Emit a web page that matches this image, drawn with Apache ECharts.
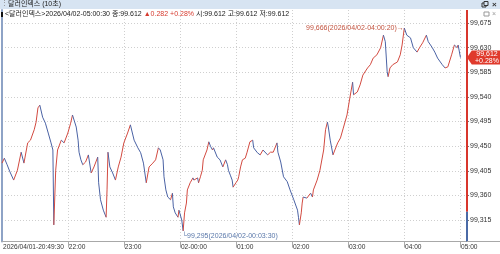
<!DOCTYPE html>
<html><head><meta charset="utf-8">
<script src="https://cdn.jsdelivr.net/npm/echarts@6/dist/echarts.min.js"></script>
<style>html,body{margin:0;padding:0;background:#fff}#c{width:500px;height:254px}</style>
</head><body><div id="c"></div>
<script>
const times = ['20:49:30','20:52','20:55','20:58','21:02','21:06','21:10','21:13','21:17','21:20',
'21:24','21:26','21:28','21:30','21:33','21:36','21:39','21:42','21:44','21:45',
'21:47','21:49','21:53','21:56','22:00','22:03','22:05','22:09','22:11','22:12',
'22:14','22:16','22:19','22:22','22:25','22:28','22:32','22:33','22:35','22:38',
'22:41','22:42','22:43','22:45','22:48','22:51','22:54','22:57','23:00','23:04',
'23:07','23:11','23:15','23:18','23:21','23:24','23:27','23:31','23:34','23:37',
'23:39','23:42','23:43','23:45','23:47','23:50','23:52','23:53','23:55','23:58',
'23:59','00:02','00:03:30','00:05','00:07','00:08','00:11','00:14','00:15','00:19',
'00:20','00:22','00:24','00:25','00:29','00:31','00:33','00:35','00:36','00:40',
'00:43','00:46','00:49','00:51','00:52','00:54','00:56','00:57','01:00','01:02',
'01:03','01:05','01:07','01:10','01:12','01:15','01:18','01:19','01:23','01:26',
'01:29','01:34','01:37','01:40','01:44','01:45','01:48','01:51','01:55','01:58',
'02:02','02:06','02:07','02:08','02:10','02:11','02:12','02:16','02:20','02:22',
'02:23','02:27','02:30','02:34','02:36','02:38','02:39','02:41','02:44','02:46',
'02:49','02:52','02:55','02:59','03:02','03:05','03:06','03:10','03:13','03:16',
'03:21','03:24','03:27','03:31','03:35','03:38','03:40','03:42','03:43','03:45',
'03:48','03:53','03:56','03:58','04:00:20','04:03','04:07','04:10','04:14','04:17',
'04:20','04:24','04:26','04:30','04:33','04:36','04:41','04:44','04:47','04:51',
'04:54','04:57','04:58','05:00:30'];
const values = [99.419,99.428,99.416,99.403,99.388,99.406,99.439,99.419,99.456,99.461,
99.480,99.494,99.520,99.525,99.503,99.492,99.474,99.456,99.443,99.306,
99.406,99.443,99.461,99.456,99.474,99.492,99.507,99.485,99.461,99.439,
99.425,99.416,99.421,99.434,99.401,99.412,99.430,99.383,99.352,99.333,
99.320,99.370,99.439,99.412,99.401,99.388,99.412,99.430,99.456,99.474,
99.489,99.461,99.447,99.438,99.419,99.383,99.412,99.419,99.425,99.447,
99.443,99.425,99.394,99.370,99.357,99.352,99.364,99.339,99.328,99.320,
99.333,99.315,99.295,99.328,99.346,99.370,99.383,99.392,99.388,99.392,
99.383,99.394,99.406,99.425,99.443,99.458,99.449,99.443,99.447,99.430,
99.425,99.412,99.425,99.416,99.406,99.397,99.388,99.375,99.383,99.388,
99.394,99.412,99.425,99.428,99.439,99.458,99.461,99.447,99.438,99.434,
99.443,99.434,99.439,99.439,99.456,99.439,99.421,99.394,99.385,99.370,
99.352,99.333,99.320,99.306,99.328,99.346,99.357,99.355,99.364,99.357,
99.370,99.388,99.406,99.443,99.480,99.494,99.485,99.461,99.434,99.443,
99.456,99.465,99.483,99.507,99.538,99.567,99.544,99.549,99.562,99.580,
99.593,99.599,99.611,99.617,99.630,99.653,99.641,99.586,99.577,99.593,
99.599,99.604,99.617,99.635,99.666,99.653,99.648,99.630,99.622,99.631,
99.639,99.653,99.641,99.631,99.622,99.611,99.599,99.593,99.595,99.617,
99.635,99.630,99.635,99.612];
const prevClose = 99.330;
const lastClose = 99.612;
const change = 0.282;
const changePct = '+0.28%';
const yTicks = [99.315,99.360,99.405,99.450,99.495,99.540,99.585,99.630,99.675];
const xTickTimes = ['22:00','23:00','00:00','01:00','02:00','03:00','04:00','05:00'];
const xTickLabels = ['22:00','23:00','02-00:00','01:00','02:00','03:00','04:00','05:00'];
const startTime = '20:49:30';
const startLabel = '2026/04/01-20:49:30';
const lastStamp = '2026/04/02-05:00:30';
const dayPrefix = '2026/04/02-';

// ---- helpers ----
function toMin(t){const p=t.split(':').map(Number);let m=p[0]*60+p[1]+(p[2]||0)/60;if(p[0]<12)m+=1440;return m;}
const fmt = v => v.toFixed(3).replace('.', ',');
const FONT = "'Liberation Sans','Noto Sans CJK KR',sans-serif";
const RED = '#d24a40', BLUE = '#4a62a4';

const xs = times.map(toMin);
// each segment: [x_prev, v_prev, x, v]
const segs = values.map((v,i)=>i?[xs[i-1],values[i-1],xs[i],v]:[xs[i],v,xs[i],v]);
let hi=0, lo=0;
values.forEach((v,i)=>{if(v>values[hi])hi=i;if(v<values[lo])lo=i;});
const xMin = toMin(startTime), xMax = toMin('05:07:30');
const yMin = 99.2755, yMax = 99.699;
const xTickMins = xTickTimes.map(toMin);
const xLabelMins = [xMin].concat(xTickMins);
const xLabelTexts = [startLabel].concat(xTickLabels);

const chart = echarts.init(document.getElementById('c'));
chart.setOption({
  animation:false,
  textStyle:{fontFamily:FONT},
  grid:{left:1,right:33,top:10,bottom:12.4},
  xAxis:{type:'value',min:xMin,max:xMax,
    axisLine:{lineStyle:{color:'#a8a8a8',width:1}},
    axisTick:{show:true,customValues:xTickMins,length:6,lineStyle:{color:'#aaa'}},
    axisLabel:{customValues:xLabelMins,align:'left',margin:2,fontSize:6.6,color:'#333',fontFamily:FONT,padding:[0,0,0,1],
      formatter:v=>{const i=xLabelMins.findIndex(m=>Math.abs(m-v)<1e-6);return i>=0?xLabelTexts[i]:'';}},
    splitLine:{show:true,lineStyle:{type:[1,2],color:'#cfcfcf',width:1}}},
  yAxis:[{type:'value',position:'right',min:yMin,max:yMax,scale:true,
    axisLine:{show:false},
    axisTick:{show:true,customValues:yTicks,length:2,inside:false,lineStyle:{color:'#777'}},
    axisLabel:{customValues:yTicks,margin:3,fontSize:7,color:'#333',fontFamily:FONT,formatter:v=>fmt(v)},
    splitLine:{show:true,lineStyle:{type:[1,2],color:'#cfcfcf',width:1}}},
   {type:'value',position:'left',min:yMin,max:yMax,
    axisLine:{show:true,lineStyle:{color:'#8ea3c6',width:2}},
    axisTick:{show:false},axisLabel:{show:false},splitLine:{show:false}}],
  series:[{type:'custom',data:segs,encode:{x:[0,2],y:[1,3]},clip:false,
    renderItem:(params,api)=>{
      const p0=api.coord([api.value(0),api.value(1)]), p1=api.coord([api.value(2),api.value(3)]);
      return {type:'line',shape:{x1:p0[0],y1:p0[1],x2:p1[0],y2:p1[1]},
        style:{stroke:api.value(3)>=api.value(1)?RED:BLUE,lineWidth:1}};
    },
    markLine:{silent:true,symbol:['none','none'],label:{show:false},
      lineStyle:{type:'solid',width:2},
      data:[[{coord:[xMax,yMax],lineStyle:{color:'#d8362c',type:'solid',width:2}},{coord:[xMax,prevClose]}],
            [{coord:[xMax,prevClose],lineStyle:{color:'#4a6aa6',type:'solid',width:2}},{coord:[xMax,yMin]}]]},
    markPoint:{silent:true,
      data:[
        {coord:[xMax,lastClose],symbol:'path://M0,7L5,0L40,0L40,14L5,14Z',symbolSize:[38,14],symbolOffset:[19,0],
          itemStyle:{color:'#e03a2c'},
          label:{show:true,position:'inside',offset:[1,0],formatter:fmt(lastClose)+'\n'+changePct,color:'#fff',fontSize:7,lineHeight:7,fontFamily:FONT}},
        {coord:[xs[hi],values[hi]],symbol:'circle',symbolSize:1,itemStyle:{color:'rgba(0,0,0,0)'},
          label:{show:true,position:'left',distance:0,color:'#c2533f',fontSize:7,fontFamily:FONT,
            formatter:fmt(values[hi])+'('+dayPrefix+times[hi]+')→'}},
        {coord:[xs[lo],values[lo]],symbol:'circle',symbolSize:1,itemStyle:{color:'rgba(0,0,0,0)'},
          label:{show:true,position:'bottom',align:'left',distance:1,offset:[-1,0],color:'#5a78aa',fontSize:7,fontFamily:FONT,
            formatter:'└'+fmt(values[lo])+'('+dayPrefix+times[lo]+')'}}
      ]}
  }],
  graphic:[
    {type:'rect',left:0,top:0,shape:{width:500,height:9},style:{fill:'#d7e4f2'},z:100},
    {type:'text',left:1,top:0,style:{text:'⋮',font:'7px '+FONT,fill:'#888'},z:101},
    {type:'text',x:8,y:4.5,style:{text:'달러인덱스 (10초)',font:'7px '+FONT,fill:'#222',verticalAlign:'middle'},z:101},
    {type:'rect',x:482,y:3,shape:{width:4,height:4},style:{fill:'none',stroke:'#333',lineWidth:1},z:101},
    {type:'rect',x:484,y:1.5,shape:{width:4,height:4},style:{fill:'#d7e4f2',stroke:'#333',lineWidth:1},z:101},
    {type:'text',x:492,y:4.5,style:{text:'×',font:'bold 8px '+FONT,fill:'#333',verticalAlign:'middle'},z:101},
    {type:'rect',x:1,y:12,shape:{width:2,height:5},style:{fill:'#111'},z:101},
    {type:'text',x:5,y:14.5,z:101,style:{
      text:'<달러인덱스>'+lastStamp+' 종:'+lastClose.toFixed(3)+' {r|▲'+change.toFixed(3)+' '+changePct+'} 시:'+lastClose.toFixed(3)+' 고:'+lastClose.toFixed(3)+' 저:'+lastClose.toFixed(3),
      font:'7px '+FONT,fill:'#222',verticalAlign:'middle',
      rich:{r:{fill:'#d63a2e',font:'7px '+FONT}}}},
    {type:'rect',x:484,y:12,shape:{width:5,height:4},style:{fill:'none',stroke:'#999',lineWidth:1},z:101},
    {type:'text',x:492,y:14.5,style:{text:'×',font:'7px '+FONT,fill:'#999',verticalAlign:'middle'},z:101},
    {type:'line',shape:{x1:467,y1:241.5,x2:500,y2:241.5},style:{stroke:'#a8a8a8',lineWidth:1},z:50}
  ]
});
</script></body></html>
